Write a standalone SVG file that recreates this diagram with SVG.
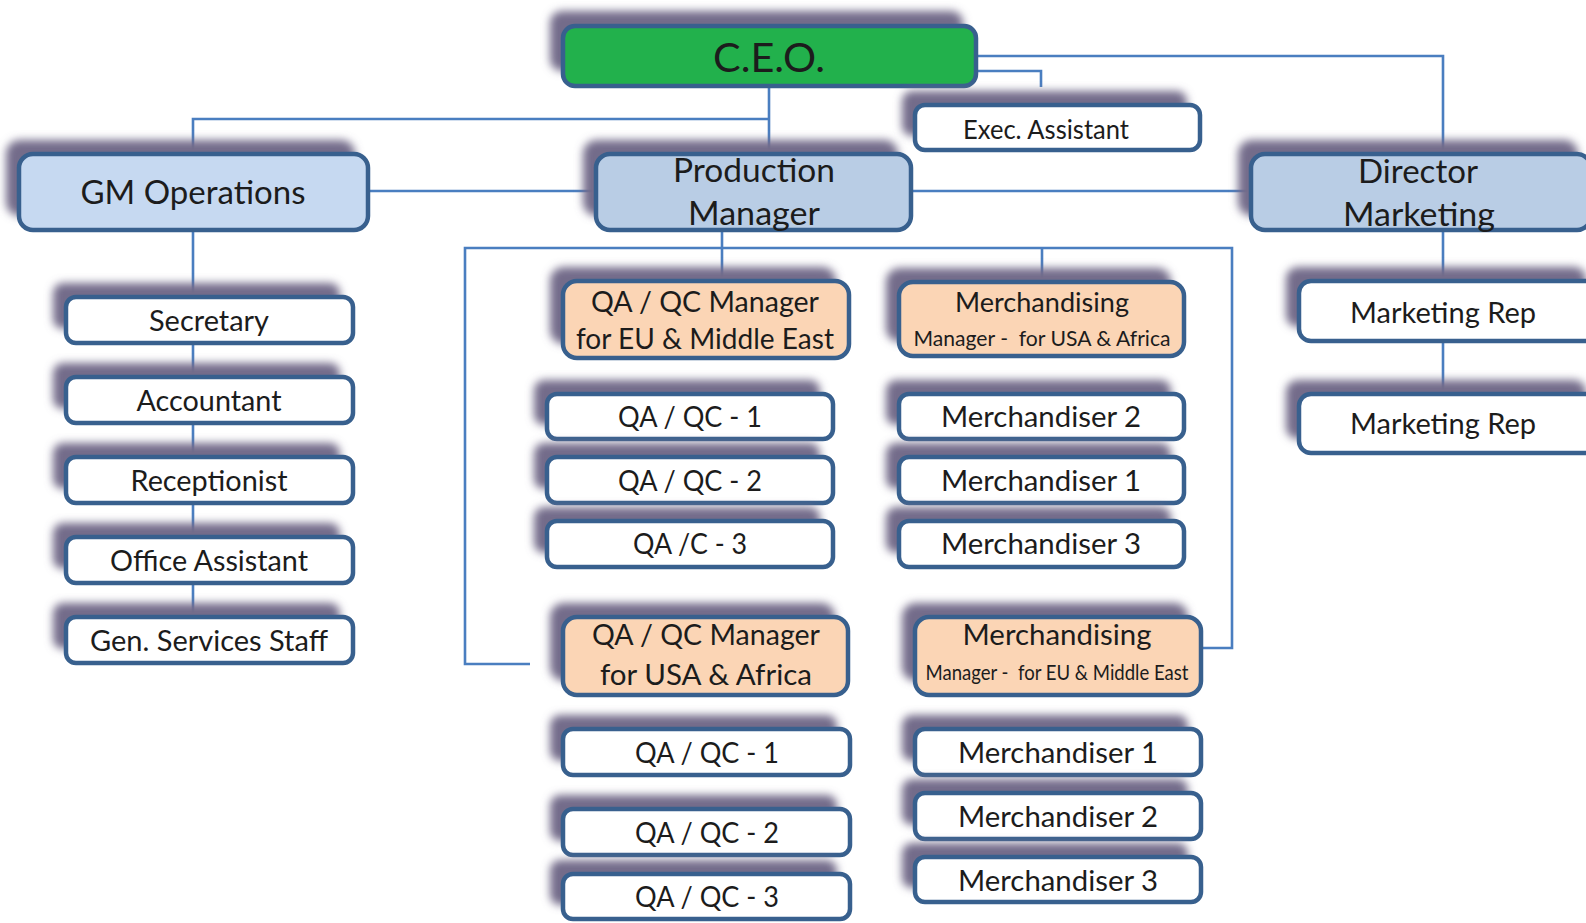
<svg xmlns="http://www.w3.org/2000/svg" width="1586" height="923" viewBox="0 0 1586 923">
<defs>
<filter id="blur" x="-10%" y="-30%" width="120%" height="160%"><feGaussianBlur stdDeviation="4.5"/></filter>
<style>
.sh{fill:#736c8a;filter:url(#blur)}
.bx{stroke:#38608e;stroke-width:4.5;fill:#ffffff}
.ceo{fill:#22b14c}
.l1{fill:#c6d9f1}
.l2{fill:#b9cde5}
.pe{fill:#fbd5b5}
text{font-family:Lato,"Liberation Sans",sans-serif;fill:#1c1c1c;text-anchor:middle}
.t{font-size:28px}
.tb{font-size:32.5px}
.cn{fill:none;stroke:#4a7ec0;stroke-width:2.6}
</style>
</defs>
<rect width="1586" height="923" fill="#ffffff"/>
<g id="connectors" class="cn">
<path d="M769 88V152"/>
<path d="M193 152V119H769"/>
<path d="M978 56H1443V152"/>
<path d="M978 71H1041V87"/>
<path d="M370 191H594"/>
<path d="M913 191H1249"/>
<path d="M722 232V279"/>
<path d="M530 664H465V248H1232V648H1203"/>
<path d="M1042 248V280"/>
<path d="M193 232V615"/>
<path d="M1443 232V392"/>
</g>
<g id="ceo"><rect class="sh" x="550" y="11" width="413" height="60" rx="12"/><rect class="bx ceo" x="563" y="26" width="413" height="60" rx="12"/><text x="769" y="72" font-size="41" textLength="112" lengthAdjust="spacingAndGlyphs">C.E.O.</text></g>
<g id="exec"><rect class="sh" x="902" y="91" width="285" height="45" rx="10"/><rect class="bx" x="915" y="105" width="285" height="45" rx="10"/><text x="1046" y="139" font-size="26.5" textLength="166" lengthAdjust="spacingAndGlyphs">Exec. Assistant</text></g>
<g id="gm"><rect class="sh" x="6" y="140" width="349" height="76" rx="14"/><rect class="bx l1" x="19" y="154" width="349" height="76" rx="14"/><text class="tb" x="193" y="204" textLength="225" lengthAdjust="spacingAndGlyphs">GM Operations</text></g>
<g id="pm"><rect class="sh" x="583" y="140" width="315" height="76" rx="14"/><rect class="bx l2" x="596" y="154" width="315" height="76" rx="14"/><text class="tb" x="754" y="182" textLength="162" lengthAdjust="spacingAndGlyphs">Production</text><text class="tb" x="754" y="225" textLength="132" lengthAdjust="spacingAndGlyphs">Manager</text></g>
<g id="dir"><rect class="sh" x="1238" y="140" width="340" height="76" rx="14"/><rect class="bx l2" x="1251" y="154" width="340" height="76" rx="14"/><text class="tb" x="1418" y="183" textLength="120" lengthAdjust="spacingAndGlyphs">Director</text><text class="tb" x="1419" y="226" textLength="152" lengthAdjust="spacingAndGlyphs">Marketing</text></g>
<g id="mr1"><rect class="sh" x="1286" y="267" width="300" height="60" rx="12"/><rect class="bx" x="1299" y="281" width="300" height="60" rx="12"/><text class="t" x="1443" y="323" textLength="186" lengthAdjust="spacingAndGlyphs">Marketing Rep</text></g>
<g id="mr2"><rect class="sh" x="1286" y="380" width="300" height="59" rx="12"/><rect class="bx" x="1299" y="394" width="300" height="59" rx="12"/><text class="t" x="1443" y="434" textLength="186" lengthAdjust="spacingAndGlyphs">Marketing Rep</text></g>
<g id="sec"><rect class="sh" x="53" y="283" width="287" height="46" rx="10"/><rect class="bx" x="66" y="297" width="287" height="46" rx="10"/><text class="t" x="209" y="331" textLength="120" lengthAdjust="spacingAndGlyphs">Secretary</text></g>
<g id="acc"><rect class="sh" x="53" y="363" width="287" height="46" rx="10"/><rect class="bx" x="66" y="377" width="287" height="46" rx="10"/><text class="t" x="209" y="411" textLength="145" lengthAdjust="spacingAndGlyphs">Accountant</text></g>
<g id="rec"><rect class="sh" x="53" y="443" width="287" height="46" rx="10"/><rect class="bx" x="66" y="457" width="287" height="46" rx="10"/><text class="t" x="209" y="491" textLength="157" lengthAdjust="spacingAndGlyphs">Receptionist</text></g>
<g id="oa"><rect class="sh" x="53" y="523" width="287" height="46" rx="10"/><rect class="bx" x="66" y="537" width="287" height="46" rx="10"/><text class="t" x="209" y="571" textLength="198" lengthAdjust="spacingAndGlyphs">Office Assistant</text></g>
<g id="gs"><rect class="sh" x="53" y="603" width="287" height="46" rx="10"/><rect class="bx" x="66" y="617" width="287" height="46" rx="10"/><text class="t" x="209" y="651" textLength="238" lengthAdjust="spacingAndGlyphs">Gen. Services Staff</text></g>
<g id="qam1"><rect class="sh" x="550" y="267" width="286" height="77" rx="14"/><rect class="bx pe" x="563" y="281" width="286" height="77" rx="14"/><text class="t" x="705" y="312" textLength="228" lengthAdjust="spacingAndGlyphs">QA / QC Manager</text><text class="t" x="705" y="349" textLength="258" lengthAdjust="spacingAndGlyphs">for EU &amp; Middle East</text></g>
<g id="qa1a"><rect class="sh" x="534" y="380" width="286" height="45" rx="10"/><rect class="bx" x="547" y="394" width="286" height="45" rx="10"/><text class="t" x="690" y="427" textLength="144" lengthAdjust="spacingAndGlyphs">QA / QC - 1</text></g>
<g id="qa2a"><rect class="sh" x="534" y="443" width="286" height="46" rx="10"/><rect class="bx" x="547" y="457" width="286" height="46" rx="10"/><text class="t" x="690" y="491" textLength="144" lengthAdjust="spacingAndGlyphs">QA / QC - 2</text></g>
<g id="qa3a"><rect class="sh" x="534" y="507" width="286" height="46" rx="10"/><rect class="bx" x="547" y="521" width="286" height="46" rx="10"/><text class="t" x="690" y="554" textLength="114" lengthAdjust="spacingAndGlyphs">QA /C - 3</text></g>
<g id="mm1"><rect class="sh" x="886" y="268" width="285" height="74" rx="14"/><rect class="bx pe" x="899" y="282" width="285" height="74" rx="14"/><text x="1042" y="312" font-size="26" textLength="174" lengthAdjust="spacingAndGlyphs">Merchandising</text><text x="1042" y="346" font-size="20.5" xml:space="preserve" textLength="257" lengthAdjust="spacingAndGlyphs">Manager -  for USA &amp; Africa</text></g>
<g id="m2a"><rect class="sh" x="886" y="380" width="285" height="45" rx="10"/><rect class="bx" x="899" y="394" width="285" height="45" rx="10"/><text class="t" x="1041" y="427" textLength="200" lengthAdjust="spacingAndGlyphs">Merchandiser 2</text></g>
<g id="m1a"><rect class="sh" x="886" y="443" width="285" height="46" rx="10"/><rect class="bx" x="899" y="457" width="285" height="46" rx="10"/><text class="t" x="1041" y="491" textLength="200" lengthAdjust="spacingAndGlyphs">Merchandiser 1</text></g>
<g id="m3a"><rect class="sh" x="886" y="507" width="285" height="46" rx="10"/><rect class="bx" x="899" y="521" width="285" height="46" rx="10"/><text class="t" x="1041" y="554" textLength="200" lengthAdjust="spacingAndGlyphs">Merchandiser 3</text></g>
<g id="qam2"><rect class="sh" x="550" y="603" width="285" height="78" rx="14"/><rect class="bx pe" x="563" y="617" width="285" height="78" rx="14"/><text class="t" x="706" y="645" textLength="228" lengthAdjust="spacingAndGlyphs">QA / QC Manager</text><text class="t" x="706" y="685" textLength="212" lengthAdjust="spacingAndGlyphs">for USA &amp; Africa</text></g>
<g id="mm2"><rect class="sh" x="902" y="603" width="286" height="78" rx="14"/><rect class="bx pe" x="915" y="617" width="286" height="78" rx="14"/><text x="1057" y="645" font-size="28" textLength="189" lengthAdjust="spacingAndGlyphs">Merchandising</text><text x="1057" y="680" font-size="21" xml:space="preserve" textLength="263" lengthAdjust="spacingAndGlyphs">Manager -  for EU &amp; Middle East</text></g>
<g id="qa1b"><rect class="sh" x="550" y="715" width="287" height="46" rx="10"/><rect class="bx" x="563" y="729" width="287" height="46" rx="10"/><text class="t" x="707" y="763" textLength="144" lengthAdjust="spacingAndGlyphs">QA / QC - 1</text></g>
<g id="qa2b"><rect class="sh" x="550" y="795" width="287" height="46" rx="10"/><rect class="bx" x="563" y="809" width="287" height="46" rx="10"/><text class="t" x="707" y="843" textLength="144" lengthAdjust="spacingAndGlyphs">QA / QC - 2</text></g>
<g id="qa3b"><rect class="sh" x="550" y="860" width="287" height="45" rx="10"/><rect class="bx" x="563" y="874" width="287" height="45" rx="10"/><text class="t" x="707" y="907" textLength="144" lengthAdjust="spacingAndGlyphs">QA / QC - 3</text></g>
<g id="m1b"><rect class="sh" x="902" y="715" width="286" height="46" rx="10"/><rect class="bx" x="915" y="729" width="286" height="46" rx="10"/><text class="t" x="1058" y="763" textLength="200" lengthAdjust="spacingAndGlyphs">Merchandiser 1</text></g>
<g id="m2b"><rect class="sh" x="902" y="779" width="286" height="46" rx="10"/><rect class="bx" x="915" y="793" width="286" height="46" rx="10"/><text class="t" x="1058" y="827" textLength="200" lengthAdjust="spacingAndGlyphs">Merchandiser 2</text></g>
<g id="m3b"><rect class="sh" x="902" y="843" width="286" height="45" rx="10"/><rect class="bx" x="915" y="857" width="286" height="45" rx="10"/><text class="t" x="1058" y="891" textLength="200" lengthAdjust="spacingAndGlyphs">Merchandiser 3</text></g>
</svg>
